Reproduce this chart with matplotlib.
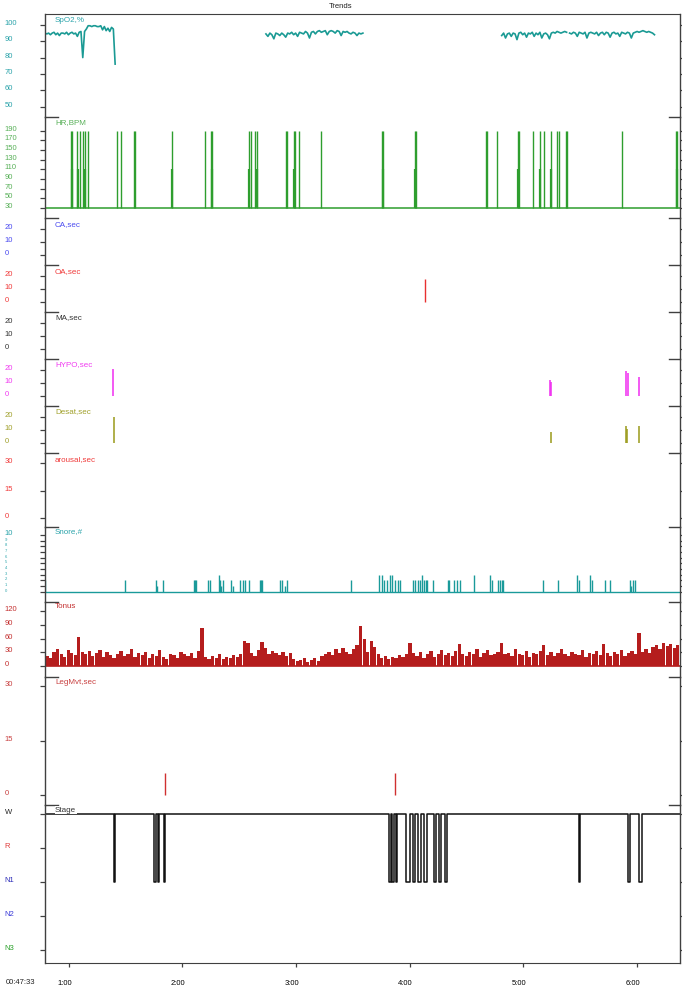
import numpy as np
import matplotlib
matplotlib.use("Agg")
import matplotlib.pyplot as plt
from matplotlib.transforms import ScaledTranslation

plt.rcParams['font.family'] = ['Liberation Sans', 'DejaVu Sans']

# time axis in hours (recording starts 00:47:33)
t_start = 0.7925
t_end = 6.374
hour_ticks = [1, 2, 3, 4, 5, 6]
hour_labels = ["1:00", "2:00", "3:00", "4:00", "5:00", "6:00"]

# SpO2, % (three recorded stretches)
spo2_spans = [(0.7925, 1.4095), (2.736, 3.589), (4.810, 5.381), (5.407, 6.154)]
spo2_seg1 = [95, 94.5, 95, 94, 95, 95.5, 94, 95, 93.5, 95, 95, 94.5, 95.5, 94, 95, 95.5, 94.5, 95, 93, 95.5,
             96, 80, 96, 97.5, 99.5, 99.5, 99, 99.5, 99.5, 99, 99, 99.5, 97, 99, 96.5, 98, 96, 98.5, 97.5, 76]
spo2_seg2 = [94.5, 93, 95, 94, 91.5, 95, 94.5, 93.5, 95, 94, 92.5, 95, 94.5, 95.5, 94, 95, 93, 95.5, 95, 94.5,
             96, 95, 92, 95.5, 96, 94.5, 96, 96.5, 95.5, 96, 96.5, 94, 96, 96.5, 96, 95, 96.5, 96, 93.5, 96,
             95.5, 96, 95, 94.5, 95.5, 95, 93.5, 95, 94.5, 95]
spo2_seg3 = [93.5, 95, 92, 94.5, 95, 93, 95, 94.5, 91, 95, 95.5, 94, 95, 92.5, 95, 94.5, 95.5, 93, 95, 94,
             95.5, 92, 94.5, 95, 94, 91.5, 95, 95.5, 95, 96, 95.5, 95, 95.5, 96, 95.5]
spo2_seg4 = [95, 94.5, 95.5, 95, 93, 95.5, 95, 94.5, 95.5, 92, 95, 95.5, 95, 94.5, 95.5, 93.5, 95, 95.5, 94, 95.5,
             95, 92.5, 95, 95.5, 94.5, 95, 93, 95.5, 95, 94.5, 95.5, 95, 92, 95, 95.5, 96, 95.5, 96, 96.5, 96,
             95.5, 96, 95.5, 95, 94]

# HR, BPM spikes (artefacts from 30 baseline)
hr_base = 30
hr_spike_t = [1.020, 1.031, 1.074, 1.099, 1.124, 1.146, 1.167, 1.423, 1.459, 1.574, 1.581, 1.908, 2.202,
              2.253, 2.264, 2.591, 2.601, 2.644, 2.656, 2.914, 2.924, 2.986, 2.993, 3.029, 3.223, 3.755,
              3.766, 4.046, 4.054, 4.668, 4.682, 4.772, 4.955, 4.963, 5.085, 5.149, 5.182, 5.247, 5.300,
              5.311, 5.373, 5.380, 5.865, 6.343, 6.350]
hr_spike_v = 190
hr_half_t = [1.026, 1.082, 1.146, 1.908, 2.264, 2.591, 2.656, 2.986, 3.766, 4.046, 4.955, 5.149, 5.247, 6.350]
hr_half_v = 110

# event durations, sec
oa_t, oa_v = [4.134], [18]
hypo_t = [1.392, 5.232, 5.241, 5.899, 5.917, 6.022]
hypo_v = [21, 12, 11, 19, 17.5, 15]
desat_t = [1.401, 5.241, 5.905, 5.912, 6.022]
desat_v = [20, 8.5, 13, 11, 13]
legmvt_t, legmvt_v = [1.849, 3.870], [6, 6]

# snore count
snore_t = [0.795, 1.498, 1.768, 1.782, 1.829, 2.105, 2.116, 2.123, 2.228, 2.242, 2.321, 2.332, 2.343, 2.361,
           2.432, 2.443, 2.511, 2.530, 2.548, 2.591, 2.684, 2.692, 2.699, 2.864, 2.878, 2.907, 2.918, 3.482,
           3.730, 3.755, 3.777, 3.805, 3.827, 3.849, 3.870, 3.895, 3.913, 4.028, 4.050, 4.075, 4.093, 4.111,
           4.129, 4.147, 4.157, 4.208, 4.334, 4.344, 4.391, 4.416, 4.441, 4.568, 4.704, 4.721, 4.776, 4.794,
           4.812, 4.822, 5.171, 5.308, 5.469, 5.488, 5.584, 5.603, 5.721, 5.764, 5.937, 5.951, 5.969, 5.983]
snore_v = [2, 2, 2, 1, 2, 2, 2, 2, 2, 2, 3, 2, 1, 2,
           2, 1, 2, 2, 2, 2, 2, 2, 2, 2, 2, 1, 2, 2,
           3, 3, 2, 2, 3, 3, 2, 2, 2, 2, 2, 2, 2, 3,
           2, 2, 2, 2, 2, 2, 2, 2, 2, 3, 3, 2, 2, 2,
           2, 2, 2, 2, 3, 2, 3, 2, 2, 2, 2, 1, 2, 2]

# tonus (one bar every ~1.9 min)
tonus_v = [22, 18, 30, 38, 25, 20, 35, 28, 24, 64, 30, 26, 33, 22, 28, 35, 20, 31, 24, 18,
           27, 33, 21, 25, 36, 19, 28, 23, 30, 17, 26, 22, 34, 20, 15, 27, 24, 18, 30, 25,
           21, 28, 16, 32, 83, 20, 14, 22, 18, 25, 15, 20, 17, 24, 19, 26, 55, 50, 28, 22,
           35, 52, 40, 26, 33, 28, 24, 30, 22, 29, 14, 10, 12, 16, 9, 13, 18, 11, 22, 26,
           30, 24, 36, 28, 40, 31, 25, 38, 45, 88, 60, 30, 55, 42, 26, 18, 22, 15, 20, 17,
           23, 19, 26, 50, 28, 22, 30, 18, 25, 32, 20, 27, 35, 24, 29, 21, 33, 48, 26, 22,
           30, 25, 38, 20, 28, 34, 23, 27, 31, 50, 25, 29, 22, 36, 27, 24, 32, 19, 28, 26,
           33, 45, 24, 30, 21, 28, 36, 25, 22, 31, 27, 23, 34, 20, 29, 26, 32, 24, 48, 28,
           22, 30, 25, 35, 21, 28, 33, 26, 72, 30, 36, 28, 42, 45, 38, 50, 44, 48, 40, 46]

# hypnogram: W = 0, R = -1, N1 = -2, N2 = -3, N3 = -4 ; N1 bouts (start, end)
stage_names = ["W", "R", "N1", "N2", "N3"]
stage_levels = [0, -1, -2, -3, -4]
stage_colors = ["#222222", "#e03a3a", "#2b2bb8", "#3a3ad8", "#2aa02a"]
n1_bouts = [(1.4007, 1.4095), (1.7478, 1.7654), (1.7873, 1.7961), (1.8401, 1.8489),
            (3.8216, 3.8348), (3.8480, 3.8656), (3.8787, 3.8875), (3.9710, 4.0018),
            (4.0281, 4.0501), (4.0747, 4.1002), (4.1292, 4.1511), (4.2170, 4.2364),
            (4.2610, 4.2794), (4.3084, 4.3269), (5.4912, 5.5000), (5.9244, 5.9367),
            (6.0158, 6.0448)]

W, H = 682, 991
x0, x1 = 45, 679.5
frame = "#404040"

fig = plt.figure(figsize=(W / 100, H / 100), dpi=100)


def panel(top, bottom, ylim, ticks, labels, color, name, name_y, fs=5.5):
    ax = fig.add_axes([x0 / W, 1 - bottom / H, (x1 - x0) / W, (bottom - top) / H])
    ax.set_facecolor("none")
    ax.set_xlim(t_start, t_end)
    ax.set_ylim(*ylim)
    ax.spines["top"].set_visible(False)
    ax.spines["bottom"].set_visible(False)
    for s in ["left", "right"]:
        ax.spines[s].set_color(frame)
        ax.spines[s].set_linewidth(1.0)
    ax.tick_params(axis="x", bottom=False, labelbottom=False)
    ax.tick_params(axis="y", direction="out", length=3.6, width=0.9, color=frame,
                   left=True, right=True, labelleft=True, labelright=False, pad=25.5)
    ax.set_yticks(ticks)
    ax.set_yticklabels(labels, fontsize=fs)
    cols = color if isinstance(color, list) else [color] * len(ticks)
    for lb, c in zip(ax.get_yticklabels(), cols):
        lb.set_ha("left")
        lb.set_va("baseline")
        lb.set_color(c)
    # short marks at the top of each panel
    if top > 14:
        ax.plot([0, 13 / (x1 - x0)], [1, 1], transform=ax.transAxes, color=frame, lw=1.0, clip_on=False)
        ax.plot([1 - 11 / (x1 - x0), 1], [1, 1], transform=ax.transAxes, color=frame, lw=1.0, clip_on=False)
    txt_color = cols[0] if name != "Stage" else "#333333"
    fig.text(55 / W, 1 - name_y / H, name, fontsize=5.8, color=txt_color, va="center",
             bbox=dict(facecolor="white", edgecolor="none", pad=0.3) if name == "Stage" else None)
    return ax


# SpO2
ax = panel(14, 117, (43.6, 106.7), [50, 60, 70, 80, 90, 100], ["50", "60", "70", "80", "90", "100"],
           "#2aa3aa", "SpO2,%", 20)
ax.spines["top"].set_visible(True)
ax.spines["top"].set_color(frame)
for (a, b), seg in zip(spo2_spans, [spo2_seg1, spo2_seg2, spo2_seg3, spo2_seg4]):
    ax.plot(np.linspace(a, b, len(seg)), seg, color="#1a9a94", lw=1.2)

# HR
hr_ticks = list(range(30, 191, 20))
ax = panel(117, 218, (9.3, 218), hr_ticks, [str(v) for v in hr_ticks], "#58b058", "HR,BPM", 123)
ax.hlines(hr_base, t_start, t_end, color="#2e9e2e", lw=1.1)
ax.vlines(hr_spike_t, hr_base, hr_spike_v, color="#2e9e2e", lw=1.0)
ax.vlines(hr_half_t, hr_base, hr_half_v, color="#2e9e2e", lw=1.6)

# CA / OA / MA / HYPO / Desat
ev_ylim = (-7.7, 28.5)
ev_ticks, ev_labels = [0, 10, 20], ["0", "10", "20"]
panel(218, 265, ev_ylim, ev_ticks, ev_labels, "#4a4af0", "CA,sec", 225)
ax = panel(265, 312, ev_ylim, ev_ticks, ev_labels, "#f03a3a", "OA,sec", 272)
ax.vlines(oa_t, 0, oa_v, color="#e83030", lw=1.0)
panel(312, 359, ev_ylim, ev_ticks, ev_labels, "#333333", "MA,sec", 318)
ax = panel(359, 406, ev_ylim, ev_ticks, ev_labels, "#f03af0", "HYPO,sec", 365)
ax.vlines(hypo_t, 0, hypo_v, color="#f02cf0", lw=1.1)
ax = panel(406, 453, ev_ylim, ev_ticks, ev_labels, "#a0a02a", "Desat,sec", 412)
ax.vlines(desat_t, 0, desat_v, color="#9a9a1a", lw=1.1)

# arousal
panel(453, 527, (-5.1, 35.7), [0, 15, 30], ["0", "15", "30"], "#f03a3a", "arousal,sec", 460)

# Snore
snore_ticks = list(range(0, 11))
ax = panel(527, 602, (-1.8, 11.4), snore_ticks, [str(v) for v in snore_ticks], "#2aa3aa", "Snore,#", 532)
for lb, v in zip(ax.get_yticklabels(), snore_ticks):
    lb.set_fontsize(5.5 if v == 10 else 3.0)
ax.hlines(0, t_start, t_end, color="#1a9a9a", lw=1.0)
ax.vlines(snore_t, 0, snore_v, color="#1a9a9a", lw=1.0)

# Tonus
ax = panel(602, 677, (-25, 141), [0, 30, 60, 90, 120], ["0", "30", "60", "90", "120"],
           "#c43030", "Tonus", 607)
step = (t_end - 0.795) / len(tonus_v)
tonus_t = 0.795 + step * (np.arange(len(tonus_v)) + 0.5)
ax.bar(tonus_t, tonus_v, width=step * 0.93, color="#b51d1d", linewidth=0)
ax.hlines(0, t_start, t_end, color="#b51d1d", lw=1.2)

# LegMvt
ax = panel(677, 805, (-2.75, 32.5), [0, 15, 30], ["0", "15", "30"], "#c84040", "LegMvt,sec", 682)
ax.vlines(legmvt_t, 0, legmvt_v, color="#d03030", lw=1.0)

# Stage
ax = panel(805, 963, (-4.38, 0.265), stage_levels, stage_names, stage_colors, "Stage", 810)
ax.spines["bottom"].set_visible(True)
ax.spines["bottom"].set_color(frame)
sx, sy = [t_start], [0]
for a, b in n1_bouts:
    sx += [a, a, b, b]
    sy += [0, -2, -2, 0]
sx.append(t_end)
sy.append(0)
ax.plot(sx, sy, color="#111111", lw=1.1, zorder=1)
ax.tick_params(axis="x", bottom=True, labelbottom=True, direction="out", length=3,
               width=0.9, color=frame, pad=9, labelsize=5.5)
ax.set_xticks(hour_ticks)
ax.set_xticklabels(hour_labels)
shift = ScaledTranslation(-4 / 100, 0, fig.dpi_scale_trans)
for lb in ax.get_xticklabels():
    lb.set_transform(lb.get_transform() + shift)

fig.text(20 / W, 1 - 983 / H, "00:47:33", fontsize=5.5, ha="center", va="center", color="#222222")
fig.text(341 / W, 1 - 6 / H, "Trends", fontsize=5.5, ha="center", va="center", color="#222222")

fig.savefig("out.png", dpi=100)
